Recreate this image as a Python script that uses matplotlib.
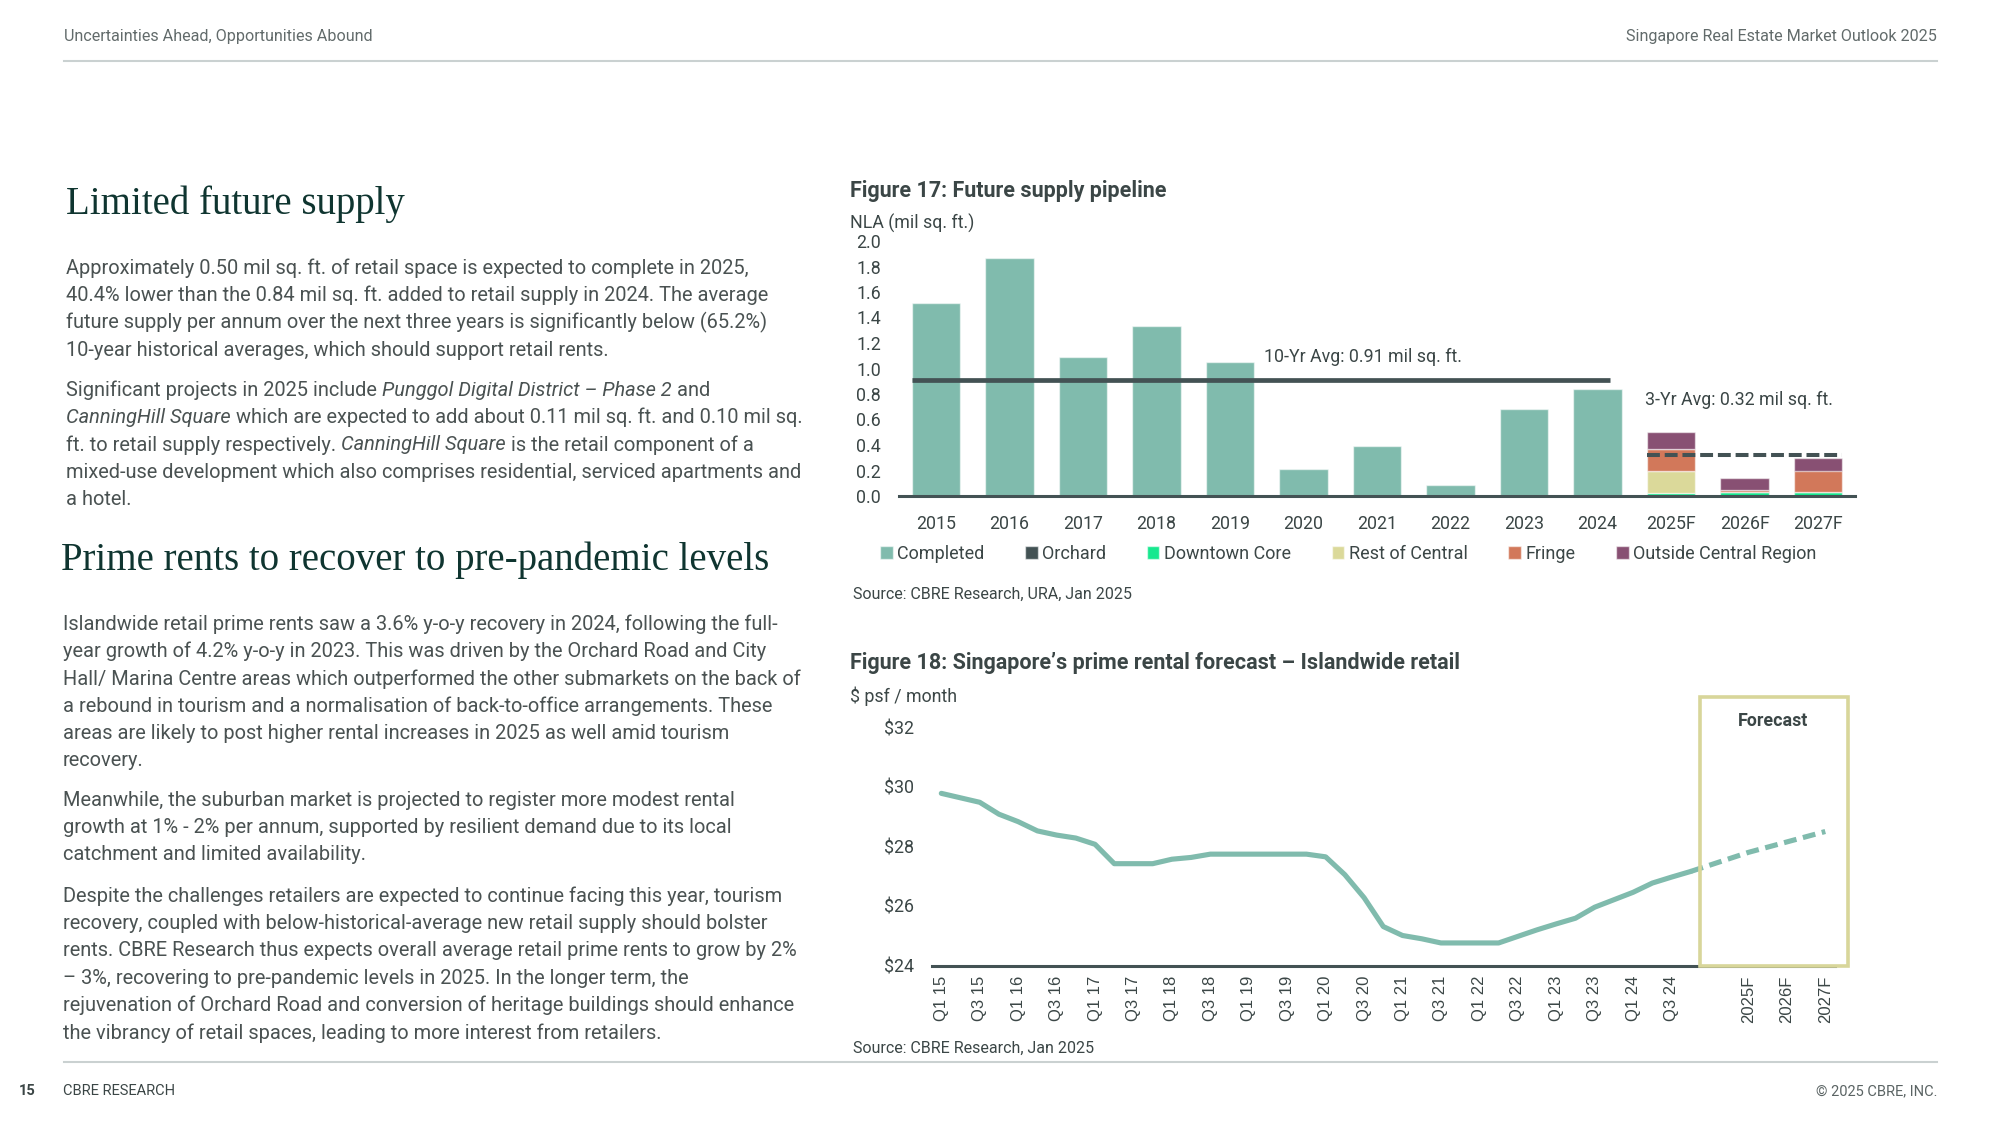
import numpy as np
import matplotlib
matplotlib.use("Agg")
import matplotlib.pyplot as plt
from matplotlib.patches import Rectangle

###########################################################################
# Page with two CBRE charts: future retail supply pipeline (Figure 17)
# and the islandwide prime rent forecast (Figure 18), plus the report text.
###########################################################################

# Figure 17 data (mil sq. ft.)
years = ["2015", "2016", "2017", "2018", "2019", "2020", "2021", "2022", "2023", "2024",
         "2025F", "2026F", "2027F"]
completed = [1.51, 1.87, 1.09, 1.33, 1.05, 0.21, 0.39, 0.09, 0.68, 0.84]
orchard = [0.0, 0.0, 0.0]
downtown_core = [0.02, 0.03, 0.03]
rest_of_central = [0.18, 0.0, 0.0]
fringe = [0.17, 0.02, 0.17]
outside_central = [0.13, 0.09, 0.10]
avg_10yr = 0.91
avg_3yr = 0.32

# Figure 18 data ($ psf / month)
quarters = [f"Q{q} {y}" for y in range(15, 25) for q in range(1, 5)]
rent_actual = [29.78, 29.63, 29.48, 29.08, 28.83, 28.52, 28.38, 28.28, 28.07, 27.42,
               27.42, 27.42, 27.57, 27.63, 27.74, 27.74, 27.74, 27.74, 27.74, 27.74,
               27.65, 27.05, 26.28, 25.31, 25.01, 24.90, 24.76, 24.76, 24.76, 24.76,
               24.98, 25.20, 25.40, 25.59, 25.96, 26.21, 26.46, 26.77, 26.97, 27.16]
forecast_labels = ["2025F", "2026F", "2027F"]
rent_forecast = [27.80, 28.15, 28.50]

# Page text
header_left = "Uncertainties Ahead, Opportunities Abound"
header_right = "Singapore Real Estate Market Outlook 2025"
heading_1 = "Limited future supply"
heading_2 = "Prime rents to recover to pre-pandemic levels"
para_1 = ["Approximately 0.50 mil sq. ft. of retail space is expected to complete in 2025,",
          "40.4% lower than the 0.84 mil sq. ft. added to retail supply in 2024. The average",
          "future supply per annum over the next three years is significantly below (65.2%)",
          "10-year historical averages, which should support retail rents."]
para_2 = [[("Significant projects in 2025 include ", "normal"),
           ("Punggol Digital District \u2013 Phase 2", "italic"), (" and", "normal")],
          [("CanningHill Square", "italic"),
           (" which are expected to add about 0.11 mil sq. ft. and 0.10 mil sq.", "normal")],
          [("ft. to retail supply respectively. ", "normal"), ("CanningHill Square", "italic"),
           (" is the retail component of a", "normal")],
          [("mixed-use development which also comprises residential, serviced apartments and", "normal")],
          [("a hotel.", "normal")]]
para_3 = ["Islandwide retail prime rents saw a 3.6% y-o-y recovery in 2024, following the full-",
          "year growth of 4.2% y-o-y in 2023. This was driven by the Orchard Road and City",
          "Hall/ Marina Centre areas which outperformed the other submarkets on the back of",
          "a rebound in tourism and a normalisation of back-to-office arrangements. These",
          "areas are likely to post higher rental increases in 2025 as well amid tourism",
          "recovery."]
para_4 = ["Meanwhile, the suburban market is projected to register more modest rental",
          "growth at 1% - 2% per annum, supported by resilient demand due to its local",
          "catchment and limited availability."]
para_5 = ["Despite the challenges retailers are expected to continue facing this year, tourism",
          "recovery, coupled with below-historical-average new retail supply should bolster",
          "rents. CBRE Research thus expects overall average retail prime rents to grow by 2%",
          "\u2013 3%, recovering to pre-pandemic levels in 2025. In the longer term, the",
          "rejuvenation of Orchard Road and conversion of heritage buildings should enhance",
          "the vibrancy of retail spaces, leading to more interest from retailers."]

# Colours
C_COMPLETED = "#80BBAD"
C_DARK = "#435254"
C_DOWNTOWN = "#17E88F"
C_REST = "#DBD99A"
C_FRINGE = "#D2785A"
C_OUTSIDE = "#885073"
C_HEAD = "#0F3530"
C_BODY = "#4A5252"
C_CHART_TXT = "#3B4646"
C_RULE = "#CAD1D1"

plt.rcParams["font.family"] = ["Roboto", "DejaVu Sans"]
W, H = 2000, 1125
fig = plt.figure(figsize=(20, 11.25), dpi=100)
renderer = fig.canvas.get_renderer()


def fx(x):
    return x / W


def fy(y):
    return 1 - y / H


def advance(s, style, kw):
    t1 = fig.text(0, 0, "|" + s + "|", fontstyle=style, **kw)
    t2 = fig.text(0, 0, "||", fontstyle=style, **kw)
    w = t1.get_window_extent(renderer).width - t2.get_window_extent(renderer).width
    t1.remove()
    t2.remove()
    return w


def text_runs(x, y, runs, **kw):
    cur = x
    for s, style in runs:
        fig.text(fx(cur), fy(y), s, fontstyle=style, ha="left", va="center", **kw)
        cur += advance(s, style, kw)


# Header and footer
fig.text(fx(64), fy(36), header_left, fontsize=11.6, color="#626B6B", va="center")
fig.text(fx(1937), fy(36), header_right, fontsize=11.6, color="#626B6B", va="center", ha="right")
fig.add_artist(plt.Line2D([fx(64), fx(1937)], [fy(61), fy(61)], color=C_RULE, lw=1.5))
fig.add_artist(plt.Line2D([fx(64), fx(1937)], [fy(1062), fy(1062)], color=C_RULE, lw=1.5))
fig.text(fx(19), fy(1091), "15", fontsize=10.5, color="#3B4646", va="center", fontweight="bold")
fig.text(fx(63), fy(1091), "CBRE RESEARCH", fontsize=10.5, color="#3B4646", va="center")
fig.text(fx(1937), fy(1091), "\u00a9 2025 CBRE, INC.", fontsize=10.5, color="#5B6464", va="center",
         ha="right")

# Left column text
serif = dict(family="Liberation Serif", fontsize=28, color=C_HEAD, va="center")
fig.text(fx(66), fy(204), heading_1, **serif)
fig.text(fx(61), fy(560), heading_2, **serif)

body = dict(fontsize=14.4, color=C_BODY)
line_h = 27.4
for i, line in enumerate(para_1):
    fig.text(fx(66), fy(268 + i * line_h), line, va="center", **body)
for i, runs in enumerate(para_2):
    text_runs(66, 390 + i * line_h, runs, **body)
for start, para in [(624, para_3), (800, para_4), (896, para_5)]:
    for i, line in enumerate(para):
        fig.text(fx(63), fy(start + i * line_h), line, va="center", **body)

# Figure 17: future supply pipeline
fig.text(fx(850), fy(191), "Figure 17: Future supply pipeline", fontsize=15.5, fontweight="semibold",
         color=C_CHART_TXT, va="center")
fig.text(fx(850), fy(223), "NLA (mil sq. ft.)", fontsize=12.8, color=C_CHART_TXT, va="center")
fig.text(fx(853), fy(594), "Source: CBRE Research, URA, Jan 2025", fontsize=11.5, color=C_CHART_TXT,
         va="center")

ax1 = fig.add_axes([fx(899), fy(496), (1855 - 899) / W, (496 - 241) / H])
bar_w = 0.66
edge = (1, 1, 1, 0.55)
x_hist = np.arange(len(completed))
x_fc = np.arange(len(completed), len(years))
handles = [ax1.bar(x_hist, completed, bar_w, color=C_COMPLETED, edgecolor=edge, linewidth=1.0,
                   label="Completed")]
bottom = np.zeros(len(x_fc))
for vals, col, lab in [(orchard, C_DARK, "Orchard"), (downtown_core, C_DOWNTOWN, "Downtown Core"),
                       (rest_of_central, C_REST, "Rest of Central"), (fringe, C_FRINGE, "Fringe"),
                       (outside_central, C_OUTSIDE, "Outside Central Region")]:
    handles.append(ax1.bar(x_fc, vals, bar_w, bottom=bottom, color=col, edgecolor=edge, linewidth=1.0,
                           label=lab))
    bottom += np.array(vals)

ax1.plot([x_hist[0] - bar_w / 2, x_hist[-1] + bar_w / 4], [avg_10yr, avg_10yr], color=C_DARK, lw=3.4,
         solid_capstyle="butt", zorder=3)
ax1.plot([x_fc[0] - bar_w / 2, x_fc[-1] + bar_w / 2], [avg_3yr, avg_3yr], color=C_DARK, lw=2.9,
         linestyle=(0, (3.2, 1.2)), zorder=3)
ax1.text(4.46, 1.09, f"10-Yr Avg: {avg_10yr:.2f} mil sq. ft.", fontsize=12.8, color=C_CHART_TXT,
         va="center", ha="left")
ax1.text(9.65, 0.75, f"3-Yr Avg: {avg_3yr:.2f} mil sq. ft.", fontsize=12.8, color=C_CHART_TXT,
         va="center", ha="left")

ax1.set_xlim(-0.5, 12.5)
ax1.set_ylim(0, 2.0)
ax1.set_xticks(np.arange(len(years)))
ax1.set_xticklabels(years)
ax1.set_yticks(np.arange(0, 2.01, 0.2))
ax1.set_yticklabels([f"{v:.1f}" for v in np.arange(0, 2.01, 0.2)])
ax1.tick_params(axis="x", length=0, pad=14, labelsize=12.8, labelcolor=C_CHART_TXT)
ax1.tick_params(axis="y", length=0, pad=13, labelsize=12.8, labelcolor=C_CHART_TXT)
for s in ["top", "right", "left"]:
    ax1.spines[s].set_visible(False)
ax1.spines["bottom"].set_color(C_DARK)
ax1.spines["bottom"].set_linewidth(2.2)
ax1.spines["bottom"].set_zorder(4)
ax1.legend(handles=handles, loc="center left", bbox_to_anchor=(fx(880), fy(554)),
           bbox_transform=fig.transFigure, ncol=6, frameon=False, fontsize=13,
           handlelength=0.7, handleheight=0.7, handletextpad=0.25, columnspacing=2.25,
           borderaxespad=0, borderpad=0, labelcolor=C_CHART_TXT)

# Figure 18: prime rental forecast
fig.text(fx(850), fy(663), "Figure 18: Singapore\u2019s prime rental forecast \u2013 Islandwide retail",
         fontsize=15.5, fontweight="semibold", color=C_CHART_TXT, va="center")
fig.text(fx(850), fy(696), "$ psf / month", fontsize=12.8, color=C_CHART_TXT, va="center")
fig.text(fx(853), fy(1048), "Source: CBRE Research, Jan 2025", fontsize=11.5, color=C_CHART_TXT,
         va="center")

ax2 = fig.add_axes([fx(931.7), fy(965.6), (1834.9 - 931.7) / W, (965.6 - 697.4) / H])
x_q = np.arange(len(rent_actual))
x_f = len(rent_actual) + 2 + 2 * np.arange(len(rent_forecast))
ax2.plot(x_q, rent_actual, color=C_COMPLETED, lw=3.7, solid_joinstyle="round", solid_capstyle="round")
ax2.plot(np.r_[x_q[-1], x_f], np.r_[rent_actual[-1], rent_forecast], color=C_COMPLETED, lw=3.7,
         linestyle=(0, (2.5, 1.3)))
ax2.add_patch(Rectangle((x_q[-1] + 0.5, 24), 7.7, 9, fill=False, edgecolor="#D8D69A", lw=2.6,
                        clip_on=False, zorder=5))
ax2.text(43.3, 32.2, "Forecast", fontsize=12.8, fontweight="bold", color=C_CHART_TXT,
         ha="center", va="center")

ax2.set_xlim(-0.5, 46.5)
ax2.set_ylim(24, 33)
ax2.set_xticks(list(x_q[::2]) + list(x_f))
ax2.set_xticklabels(quarters[::2] + forecast_labels, rotation=90, family="Liberation Sans",
                    fontsize=12, color=C_CHART_TXT)
ax2.set_yticks(np.arange(24, 33, 2))
ax2.set_yticklabels([f"${v}" for v in range(24, 33, 2)])
ax2.tick_params(axis="x", length=0, pad=7)
ax2.tick_params(axis="y", length=0, pad=13, labelsize=12.8, labelcolor=C_CHART_TXT)
for s in ["top", "right", "left"]:
    ax2.spines[s].set_visible(False)
ax2.spines["bottom"].set_color(C_DARK)
ax2.spines["bottom"].set_linewidth(2.2)

fig.savefig("out.png", dpi=100)
